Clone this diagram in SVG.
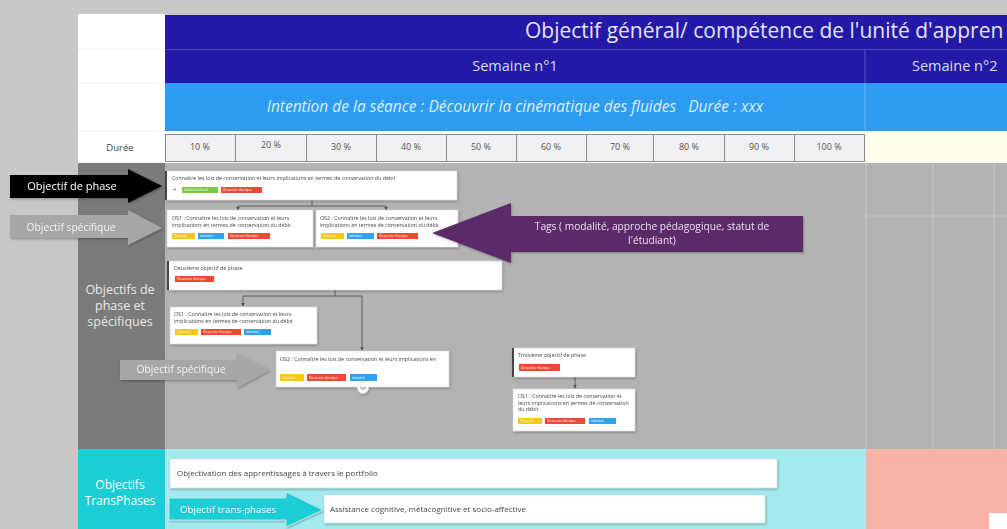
<svg xmlns="http://www.w3.org/2000/svg" width="1007" height="529" viewBox="0 0 1007 529">
<defs>
<style>
.t{font-family:"Open Sans","Liberation Sans",sans-serif}
.box{fill:#ffffff;stroke:#d6d6d6;stroke-width:0.6}
.bt{font-family:"Open Sans","Liberation Sans",sans-serif;fill:#444}
.tag{font-family:"Open Sans","Liberation Sans",sans-serif;font-size:2.8px;fill:#fff}
.y{fill:#f8c61c}.b{fill:#2fa3f0}.r{fill:#ee4a35}.g{fill:#7dc545}
.cell{fill:#f1f1f1;stroke:#8a8a8a;stroke-width:1}
.pct{font-family:"Open Sans","Liberation Sans",sans-serif;font-size:9px;fill:#555;text-anchor:middle}
.conn{fill:none;stroke:#555;stroke-width:0.9}
.grid{stroke:#c6c6c6;stroke-width:1.2}
.lbl{font-family:"Open Sans","Liberation Sans",sans-serif;text-anchor:middle}
</style>
<marker id="ah" viewBox="0 0 6 6" refX="5" refY="3" markerWidth="4" markerHeight="4" orient="auto"><path d="M0,0 L6,3 L0,6 z" fill="#555"/></marker>
<filter id="sh" x="-10%" y="-20%" width="120%" height="150%"><feDropShadow dx="0.8" dy="1.2" stdDeviation="0.9" flood-color="#000" flood-opacity="0.3"/></filter>
</defs>
<rect x="0" y="0" width="1007" height="529" fill="#c8c8c8"/>

<g id="header">
<rect x="78" y="14" width="87" height="149" fill="#ffffff"/>
<line x1="78" y1="49" x2="165" y2="49" stroke="#eeeeee"/>
<line x1="78" y1="83" x2="165" y2="83" stroke="#eeeeee"/>
<line x1="78" y1="131" x2="165" y2="131" stroke="#eeeeee"/>
<rect x="165" y="15" width="842" height="34" fill="#2319a6"/>
<text class="t" x="525" y="38" font-size="21" fill="#e4e4f4">Objectif général/ compétence de l'unité d'appren</text>
<rect x="165" y="49" width="842" height="34" fill="#2319a6"/>
<line x1="165" y1="49.5" x2="1007" y2="49.5" stroke="#4a44bb" stroke-width="1"/>
<line x1="865" y1="49" x2="865" y2="83" stroke="#5a55c4" stroke-width="1"/>
<text class="t" x="515" y="71" font-size="14.5" fill="#dcdcec" text-anchor="middle">Semaine n°1</text>
<text class="t" x="912" y="71" font-size="14.5" fill="#dcdcec">Semaine n°2</text>
<rect x="165" y="83" width="842" height="48" fill="#2d9bef"/>
<line x1="865" y1="83" x2="865" y2="131" stroke="#6cbaf5" stroke-width="1"/>
<text class="t" x="515" y="112" font-size="15.5" font-style="italic" fill="#dceeff" text-anchor="middle" xml:space="preserve">Intention de la séance : Découvrir la cinématique des fluides   Durée : xxx</text>
<rect x="165" y="131" width="700" height="32" fill="#ffffff"/>
<rect x="865" y="131" width="142" height="32" fill="#fffdee"/>
<text class="t" x="120" y="151" font-size="9.5" fill="#444" text-anchor="middle">Durée</text>
<rect class="cell" x="165.5" y="134.5" width="70" height="27"/>
<rect class="cell" x="235.5" y="134.5" width="71" height="27"/>
<rect class="cell" x="306.5" y="134.5" width="70" height="27"/>
<rect class="cell" x="376.5" y="134.5" width="70" height="27"/>
<rect class="cell" x="446.5" y="134.5" width="70" height="27"/>
<rect class="cell" x="516.5" y="134.5" width="70" height="27"/>
<rect class="cell" x="586.5" y="134.5" width="67" height="27"/>
<rect class="cell" x="653.5" y="134.5" width="71" height="27"/>
<rect class="cell" x="724.5" y="134.5" width="70" height="27"/>
<rect class="cell" x="794.5" y="134.5" width="70" height="27"/>
<text class="pct" x="200" y="150">10 %</text>
<text class="pct" x="271" y="148">20 %</text>
<text class="pct" x="341" y="150">30 %</text>
<text class="pct" x="411" y="150">40 %</text>
<text class="pct" x="481" y="150">50 %</text>
<text class="pct" x="551" y="150">60 %</text>
<text class="pct" x="620" y="150">70 %</text>
<text class="pct" x="689" y="150">80 %</text>
<text class="pct" x="759" y="150">90 %</text>
<text class="pct" x="829" y="150">100 %</text>
</g>

<g id="body">
<rect x="78" y="163" width="87" height="286" fill="#7b7b7b"/>
<rect x="165" y="163" width="842" height="286" fill="#b3b3b3"/>
<line class="grid" x1="866" y1="163" x2="866" y2="449"/>
<line class="grid" x1="933" y1="163" x2="933" y2="449"/>
<line class="grid" x1="994" y1="163" x2="994" y2="449"/>
<line class="grid" x1="866" y1="216" x2="1007" y2="216"/>
<text class="lbl" x="120" y="294" font-size="12.5" fill="#e8e8e8">Objectifs de</text>
<text class="lbl" x="120" y="310" font-size="12.5" fill="#e8e8e8">phase et</text>
<text class="lbl" x="120" y="326" font-size="12.5" fill="#e8e8e8">spécifiques</text>
</g>

<g id="transphases">
<rect x="78" y="449" width="87" height="80" fill="#1ccdd6"/>
<rect x="165" y="449" width="701" height="80" fill="#a3ebee"/>
<rect x="866" y="449" width="141" height="80" fill="#f9b2a5"/>
<rect x="989" y="513" width="18" height="16" fill="#ffffff"/>
<text class="lbl" x="120" y="489" font-size="12" fill="#ffffff">Objectifs</text>
<text class="lbl" x="120" y="505" font-size="12" fill="#ffffff">TransPhases</text>
</g>

<g id="connectors">
<path class="conn" d="M312,200 V206 M238,206 H386 M238,206 V210" marker-end="url(#ah)"/>
<path class="conn" d="M386,206 V210" marker-end="url(#ah)"/>
<path class="conn" d="M335,290 V296 H243 V306" marker-end="url(#ah)"/>
<path class="conn" d="M335,296 H362 V350" marker-end="url(#ah)"/>
<path class="conn" d="M575,377 V388" marker-end="url(#ah)"/>
</g>

<g id="phase1" filter="url(#sh)">
<rect class="box" x="166" y="171" width="291" height="29"/>
<rect x="165" y="171" width="2" height="29" fill="#444"/>
<text class="bt" x="172" y="180" font-size="5.3">Connaître les lois de conservation et leurs implications en termes de conservation du débit</text>
<text class="bt" x="173" y="192" font-size="6">+</text>
<rect class="g" x="182" y="187" width="36" height="6"/><text class="tag" x="184" y="191">Individuel/collectif</text>
<rect class="r" x="221" y="187" width="41" height="6"/><text class="tag" x="223" y="191">Découverte théorique</text>
</g>

<g id="os1a" filter="url(#sh)">
<rect class="box" x="167" y="210" width="146" height="37"/>
<text class="bt" x="172" y="220" font-size="5.3">OS1 : Connaître les lois de conservation et leurs</text>
<text class="bt" x="172" y="226.5" font-size="5.3">implications en termes de conservation du débit</text>
<rect class="y" x="172" y="233" width="23" height="6"/><text class="tag" x="174" y="237">Présentiel</text>
<rect class="b" x="198" y="233" width="26" height="6"/><text class="tag" x="200" y="237">Individuel</text>
<rect class="r" x="228" y="233" width="42" height="6"/><text class="tag" x="230" y="237">Découverte théorique</text>
</g>

<g id="os2a" filter="url(#sh)">
<rect class="box" x="316" y="210" width="142" height="37"/>
<text class="bt" x="320" y="220" font-size="5.3">OS2 : Connaître les lois de conservation et leurs</text>
<text class="bt" x="320" y="226.5" font-size="5.3">implications en termes de conservation du débit</text>
<rect class="y" x="321" y="233" width="23" height="6"/><text class="tag" x="323" y="237">Présentiel</text>
<rect class="b" x="347" y="233" width="27" height="6"/><text class="tag" x="349" y="237">Individuel</text>
<rect class="r" x="377" y="233" width="41" height="6"/><text class="tag" x="379" y="237">Découverte théorique</text>
</g>

<g id="phase2" filter="url(#sh)">
<rect class="box" x="168" y="261" width="334" height="29"/>
<rect x="167" y="261" width="2" height="29" fill="#444"/>
<text class="bt" x="174" y="270" font-size="5.3">Deuxième objectif de phase</text>
<rect class="r" x="175" y="276" width="39" height="6"/><text class="tag" x="177" y="280">Découverte théorique</text>
</g>

<g id="os1b" filter="url(#sh)">
<rect class="box" x="170" y="307" width="147" height="37"/>
<text class="bt" x="174" y="316" font-size="5.3">OS1 : Connaître les lois de conservation et leurs</text>
<text class="bt" x="174" y="322.5" font-size="5.3">implications en termes de conservation du débit</text>
<rect class="y" x="175" y="329" width="23" height="6"/><text class="tag" x="177" y="333">Présentiel</text>
<rect class="r" x="201" y="329" width="40" height="6"/><text class="tag" x="203" y="333">Découverte théorique</text>
<rect class="b" x="244" y="329" width="27" height="6"/><text class="tag" x="246" y="333">Individuel</text>
</g>

<g id="os2b" filter="url(#sh)">
<rect class="box" x="276" y="351" width="173" height="36"/>
<text class="bt" x="280" y="361" font-size="5.3">OS2 : Connaître les lois de conservation et leurs implications en</text>
<rect class="y" x="280" y="374" width="24" height="7"/><text class="tag" x="282" y="378.5">Présentiel</text>
<rect class="r" x="307" y="374" width="39" height="7"/><text class="tag" x="309" y="378.5">Découverte théorique</text>
<rect class="b" x="350" y="374" width="27" height="7"/><text class="tag" x="352" y="378.5">Individuel</text>
<circle cx="363" cy="388" r="5.5" fill="#ffffff" stroke="#dddddd" stroke-width="0.5"/>
<path d="M360.5,387 L363,389.5 L365.5,387" fill="none" stroke="#5b4a8a" stroke-width="1"/>
</g>

<g id="phase3" filter="url(#sh)">
<rect class="box" x="513" y="348" width="122" height="29"/>
<rect x="512" y="348" width="2" height="29" fill="#444"/>
<text class="bt" x="518" y="357" font-size="5.3">Troisième objectif de phase</text>
<rect class="r" x="519" y="364" width="41" height="7"/><text class="tag" x="521" y="368.5">Découverte théorique</text>
</g>

<g id="os3" filter="url(#sh)">
<rect class="box" x="513" y="389" width="122" height="42"/>
<text class="bt" x="518" y="398" font-size="5.3">OS1 : Connaître les lois de conservation et</text>
<text class="bt" x="518" y="404.5" font-size="5.3">leurs implications en termes de conservation</text>
<text class="bt" x="518" y="411" font-size="5.3">du débit</text>
<rect class="y" x="518" y="418" width="24" height="6"/><text class="tag" x="520" y="422">Présentiel</text>
<rect class="r" x="545" y="418" width="40" height="6"/><text class="tag" x="547" y="422">Découverte théorique</text>
<rect class="b" x="589" y="418" width="27" height="6"/><text class="tag" x="591" y="422">Individuel</text>
</g>

<g id="portfolio" filter="url(#sh)">
<rect class="box" x="170" y="459" width="607" height="29"/>
<text class="t" x="177" y="476" font-size="8" fill="#444">Objectivation des apprentissages à travers le portfolio</text>
</g>

<g id="assistance" filter="url(#sh)">
<rect class="box" x="324" y="495" width="441" height="28"/>
<text class="t" x="330" y="512" font-size="8" fill="#444">Assistance cognitive, métacognitive et socio-affective</text>
</g>

<g id="arrow-phase" filter="url(#sh)">
<polygon points="10,175 128,175 128,169 162,186 128,203 128,198 10,198" fill="#050505"/>
<text class="lbl" x="72" y="190" font-size="11" fill="#ffffff">Objectif de phase</text>
</g>

<g id="arrow-specifique1" filter="url(#sh)">
<polygon points="10,215 128,215 128,210 162,228 128,245 128,238 10,238" fill="#a7a7a7"/>
<text class="lbl" x="71" y="231" font-size="10.3" fill="#f2f2f2">Objectif spécifique</text>
</g>

<g id="arrow-specifique2" filter="url(#sh)">
<polygon points="120,360 237,360 237,353 270,370 237,388 237,380 120,380" fill="#a7a7a7"/>
<text class="lbl" x="181" y="373" font-size="10.3" fill="#f2f2f2">Objectif spécifique</text>
</g>

<g id="arrow-tags" filter="url(#sh)">
<polygon points="432,233 511,203 511,216 803,216 803,252 511,252 511,263" fill="#5b2c69"/>
<text class="lbl" x="652" y="230" font-size="10.2" fill="#ecdff0">Tags ( modalité, approche pédagogique, statut de</text>
<text class="lbl" x="652" y="244" font-size="10.2" fill="#ecdff0">l'étudiant)</text>
</g>

<g id="arrow-transphases" filter="url(#sh)">
<polygon points="169,498 286,498 286,492 323,510 286,527 286,520 169,520" fill="#1ccdd6" stroke="#c8f4f6" stroke-width="0.8"/>
<text class="t" x="180" y="513" font-size="9.7" fill="#ffffff">Objectif trans-phases</text>
</g>
</svg>
